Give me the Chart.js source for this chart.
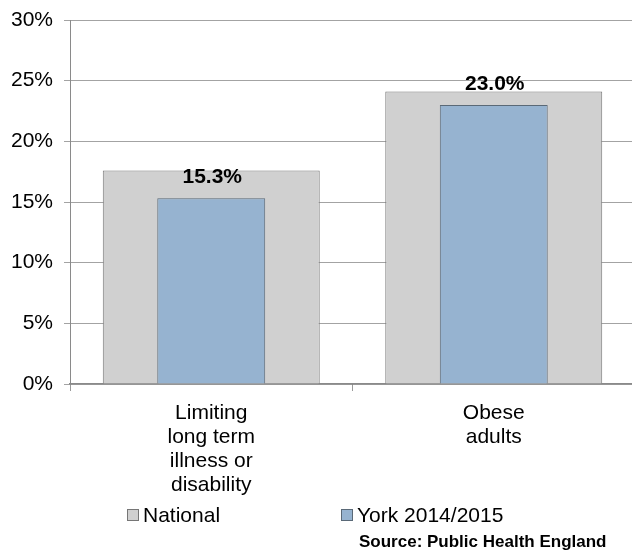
<!DOCTYPE html>
<html>
<head>
<meta charset="utf-8">
<script src="https://cdn.jsdelivr.net/npm/chart.js@4/dist/chart.umd.min.js"></script>
<style>
html,body{margin:0;padding:0;overflow:hidden;background:#fff;}
#wrap{width:640px;height:551px;}
</style>
</head>
<body>
<div id="wrap"><canvas id="c" width="640" height="551"></canvas></div>
<script>
const categories = [['Limiting','long term','illness or','disability'], ['Obese','adults']];
const nationalValues = [17.6, 24.1];
const yorkValues = [15.3, 23.0];
const seriesNames = ['National', 'York 2014/2015'];
const yTicks = [0, 5, 10, 15, 20, 25, 30];
const sourceText = 'Source: Public Health England';

const FONT = "'Liberation Sans', Arial, sans-serif";
const natFill = '#d0d0d0', natBorder = '#767676';
const yorkFill = '#96b3d0', yorkBorder = '#5a6977';
const gridColor = 'rgba(0,0,0,0.36)';

const valueLabels = {
  id: 'valueLabels',
  afterDatasetsDraw(chart) {
    const ctx = chart.ctx;
    const meta = chart.getDatasetMeta(1);
    ctx.save();
    ctx.font = 'bold 21px ' + FONT;
    ctx.fillStyle = '#000';
    ctx.textAlign = 'center';
    ctx.textBaseline = 'middle';
    meta.data.forEach((bar, i) => {
      const v = chart.data.datasets[1].data[i];
      ctx.fillText(v.toFixed(1) + '%', bar.x + 1, bar.y - 21);
    });
    ctx.restore();
  }
};

const customLegend = {
  id: 'customLegend',
  afterDraw(chart) {
    const ctx = chart.ctx;
    const ds = chart.data.datasets;
    const xs = [127, 341];
    const cy = 515;
    ctx.save();
    ctx.font = '21px ' + FONT;
    ctx.textBaseline = 'middle';
    ctx.textAlign = 'left';
    ds.forEach((d, i) => {
      ctx.fillStyle = d.backgroundColor;
      ctx.fillRect(xs[i] + 0.5, cy - 5.5, 11, 11);
      ctx.strokeStyle = d.borderColor;
      ctx.lineWidth = 1;
      ctx.strokeRect(xs[i] + 0.5, cy - 5.5, 11, 11);
      ctx.fillStyle = '#000';
      ctx.fillText(d.label, xs[i] + 16, cy + 1);
    });
    ctx.font = 'bold 17px ' + FONT;
    ctx.fillText(sourceText, 359, 542);
    ctx.restore();
  }
};

new Chart(document.getElementById('c'), {
  type: 'bar',
  data: {
    labels: categories,
    datasets: [
      {
        label: seriesNames[0],
        data: nationalValues,
        backgroundColor: natFill,
        borderColor: natBorder,
        borderWidth: 1,
        grouped: false,
        barPercentage: 0.768,
        categoryPercentage: 1,
        order: 1
      },
      {
        label: seriesNames[1],
        data: yorkValues,
        backgroundColor: yorkFill,
        borderColor: yorkBorder,
        borderWidth: 1,
        grouped: false,
        barPercentage: 0.382,
        categoryPercentage: 1,
        order: 0
      }
    ]
  },
  options: {
    responsive: false,
    devicePixelRatio: 1,
    animation: false,
    layout: { padding: { top: 20, right: 5, left: 0, bottom: 0 } },
    plugins: { legend: { display: false }, tooltip: { enabled: false } },
    scales: {
      x: {
        offset: true,
        afterFit(s) { s.height = 167; s.paddingLeft = 0; s.paddingRight = 0; },
        grid: { display: true, drawOnChartArea: false, offset: true, tickLength: 7, color: '#9a9a9a' },
        border: { display: true, color: '#8a8a8a', width: 1.5 },
        ticks: {
          color: '#000', maxRotation: 0, autoSkip: false, padding: 10,
          font: { family: FONT, size: 21, lineHeight: 24 / 21 }
        }
      },
      y: {
        min: 0, max: 30,
        z: 1,
        afterFit(s) { s.width = 70; s.paddingTop = 0; s.paddingBottom = 0; },
        afterBuildTicks(s) { s.ticks = yTicks.map(v => ({ value: v })); },
        grid: { color: gridColor, tickLength: 6 },
        border: { display: true, color: '#8a8a8a', width: 1 },
        ticks: {
          color: '#000', padding: 11,
          font: { family: FONT, size: 21 },
          callback: v => v + '%'
        }
      }
    }
  },
  plugins: [valueLabels, customLegend]
});
</script>
</body>
</html>
